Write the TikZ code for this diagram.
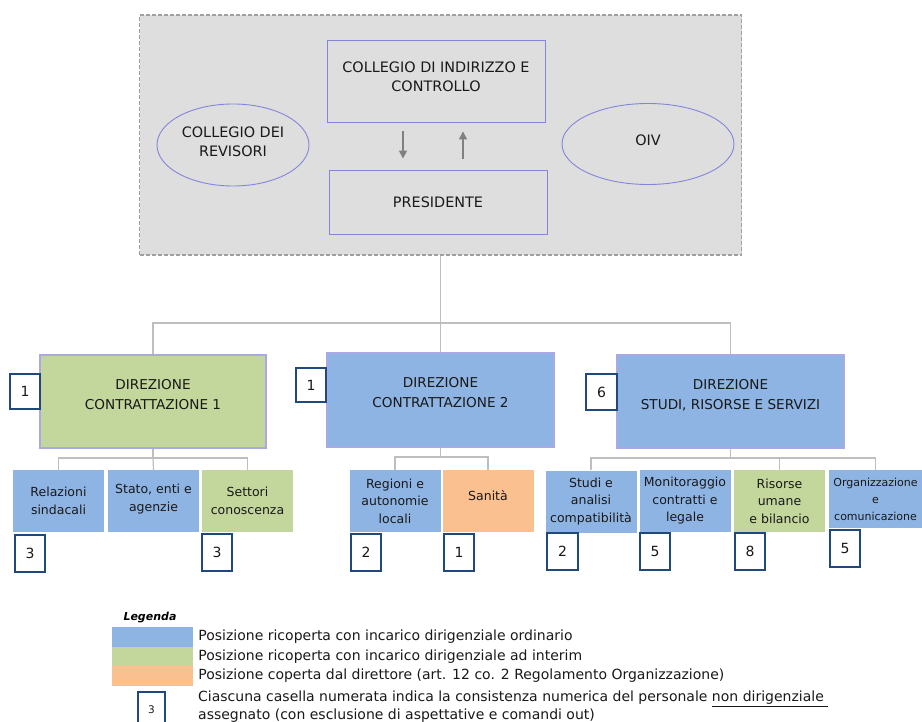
\documentclass[tikz,border=0pt]{standalone}
\usepackage{fontspec}
\setmainfont{DejaVu Sans}
\usetikzlibrary{shapes.geometric,arrows.meta}

\definecolor{headgray}{RGB}{222,222,222}
\definecolor{framegray}{RGB}{160,160,160}
\definecolor{lavline}{RGB}{132,132,220}
\definecolor{oblue}{RGB}{142,180,227}
\definecolor{ogreen}{RGB}{195,214,155}
\definecolor{oorange}{RGB}{250,192,144}
\definecolor{navy}{RGB}{31,73,125}
\definecolor{conngray}{RGB}{190,190,190}
\definecolor{arrowgray}{RGB}{128,128,128}
\definecolor{inkgray}{RGB}{25,25,25}

\tikzset{
	headframe/.style={draw=framegray, fill=headgray, line width=1.5pt, dash pattern=on 4pt off 2pt, minimum width=602, minimum height=240, inner sep=0},
	headbox/.style={draw=lavline, line width=0.9pt, minimum width=218, align=center, inner sep=0, text=inkgray, font=\fontsize{14.4}{19}\selectfont},
	headell/.style={ellipse, draw=lavline, line width=0.9pt, align=center, inner sep=0, text=inkgray, font=\fontsize{14.4}{19}\selectfont},
	dirbox/.style={draw=lavline!70, line width=1.2pt, minimum width=227, minimum height=93, align=center, inner sep=0, text=inkgray, font=\fontsize{13.6}{20}\selectfont, execute at end node={\rule[-15pt]{0pt}{0pt}}},
	unitbox/.style={minimum width=91, minimum height=62, align=center, inner sep=0, text=inkgray, font=\fontsize{12.5}{17.5}\selectfont},
	numbox/.style={draw=navy, fill=white, line width=2pt, minimum width=30, minimum height=37, inner sep=0, text=inkgray, font=\fontsize{14}{14}\selectfont},
	swatch/.style={minimum width=81, minimum height=20, inner sep=0},
	legtext/.style={anchor=west, inner sep=0, text=inkgray, font=\fontsize{14}{18}\selectfont},
	conn/.style={draw=conngray, line width=1.2pt},
	flow/.style={draw=arrowgray, line width=1.6pt, -{Triangle[length=8pt,width=8pt]}}
}

\begin{document}
\begin{tikzpicture}[x=1pt, y=-1pt]
	\useasboundingbox (0,0) rectangle (922,722);

	\node[headframe] (vertice) at (440.5,135) {};
	\node[headbox, minimum height=82] (cic) at (436,81) {COLLEGIO DI INDIRIZZO E\\CONTROLLO\rule[-8pt]{0pt}{0pt}};
	\node[headbox, minimum height=64] (pres) at (438,202) {PRESIDENTE};
	\node[headell, minimum width=152, minimum height=82] (revisori) at (233,145) {COLLEGIO DEI\\REVISORI\rule[-6pt]{0pt}{0pt}};
	\node[headell, minimum width=172, minimum height=81] (oiv) at (648,144) {OIV\rule[-8pt]{0pt}{0pt}};

	\draw[flow, shorten <=9, shorten >=11] ([xshift=-33]cic.south) -- ([xshift=-35]pres.north);
	\draw[flow, shorten <=11, shorten >=9] ([xshift=25]pres.north) -- ([xshift=27]cic.south);

	\node[dirbox, fill=ogreen, minimum width=226] (dc1) at (153,401.5) {DIREZIONE\\CONTRATTAZIONE 1};
	\node[dirbox, fill=oblue, minimum height=94] (dc2) at (440.5,400) {DIREZIONE\\CONTRATTAZIONE 2};
	\node[dirbox, fill=oblue, execute at end node={\rule[-9pt]{0pt}{0pt}}] (dsrs) at (730.5,401.5) {DIREZIONE\\STUDI, RISORSE E SERVIZI};

	\node[numbox, minimum height=35] (ndc1) at (25,391.5) {1};
	\node[numbox, minimum height=34] (ndc2) at (311,385) {1};
	\node[numbox, minimum width=31, minimum height=36] (ndsrs) at (601.5,392) {6};

	\node[unitbox, fill=oblue] (rel) at (58.5,501) {Relazioni\\sindacali};
	\node[unitbox, fill=oblue] (stato) at (153.5,501) {Stato, enti e\\agenzie\rule[-6pt]{0pt}{0pt}};
	\node[unitbox, fill=ogreen] (sett) at (247.5,501) {Settori\\conoscenza};
	\node[unitbox, fill=oblue] (reg) at (395,501) {Regioni e\\autonomie\\locali};
	\node[unitbox, fill=oorange] (san) at (488,501) {Sanità\rule[-10pt]{0pt}{0pt}};
	\node[unitbox, fill=oblue] (studi) at (591,501.5) {Studi e\\analisi\\compatibilità};
	\node[unitbox, fill=oblue] (monit) at (685,501) {Monitoraggio\\contratti e\\legale};
	\node[unitbox, fill=ogreen] (ris) at (779.5,501) {Risorse\\umane\\e bilancio};
	\node[unitbox, fill=oblue, minimum width=93, minimum height=58, font=\fontsize{11}{17}\selectfont] (org) at (875.5,499) {Organizzazione\\e\\comunicazione};

	\node[numbox] (nrel) at (30,553) {3};
	\node[numbox] (nsett) at (217,552.5) {3};
	\node[numbox] (nreg) at (366,552) {2};
	\node[numbox] (nsan) at (459,552) {1};
	\node[numbox, minimum width=31] (nstudi) at (562.5,551.5) {2};
	\node[numbox] (nmonit) at (655,551.5) {5};
	\node[numbox] (nris) at (750,551.5) {8};
	\node[numbox] (norg) at (845,548.5) {5};

	\coordinate (bus) at (440.5,323);
	\draw[conn] (vertice.south) -- (bus);
	\draw[conn] (dc1.north) |- (bus) -| (dsrs.north);
	\draw[conn] (bus) -- (dc2.north);

	\coordinate (bus1) at (153,458);
	\draw[conn] (dc1.south) -- (bus1);
	\draw[conn] (rel.north) |- (bus1) -| (sett.north);
	\draw[conn] (bus1) -- (stato.north);

	\coordinate (bus2) at (440.5,457);
	\draw[conn] (dc2.south) -- (bus2);
	\draw[conn] (reg.north) |- (bus2) -| (san.north);

	\coordinate (bus3) at (730.5,458);
	\draw[conn] (dsrs.south) -- (bus3);
	\draw[conn] (studi.north) |- (bus3) -| (org.north);
	\draw[conn] (ris.north) |- (bus3);

	\node[font=\fontsize{11}{11}\selectfont\bfseries\itshape] (legenda) at (150,618) {Legenda};
	\node[swatch, fill=oblue] (sw1) at (152.5,637) {};
	\node[swatch, fill=ogreen, minimum height=19.5] (sw2) at (152.5,656.5) {};
	\node[swatch, fill=oorange] (sw3) at (152.5,676) {};
	\node[numbox, line width=1.5pt, minimum width=27, minimum height=36, font=\fontsize{10.5}{10.5}\selectfont] (nleg) at (151.5,710) {3};

	\node[legtext] (t1) at ([xshift=5]sw1.east) {Posizione ricoperta con incarico dirigenziale ordinario};
	\node[legtext] (t2) at ([xshift=5]sw2.east) {Posizione ricoperta con incarico dirigenziale ad interim};
	\node[legtext] (t3) at ([xshift=5]sw3.east) {Posizione coperta dal direttore (art. 12 co. 2 Regolamento Organizzazione)};
	\node[legtext, align=left] (t4) at (198,707) {Ciascuna casella numerata indica la consistenza numerica del personale \underline{non dirigenziale\ }\\assegnato (con esclusione di aspettative e comandi out)};
\end{tikzpicture}
\end{document}
